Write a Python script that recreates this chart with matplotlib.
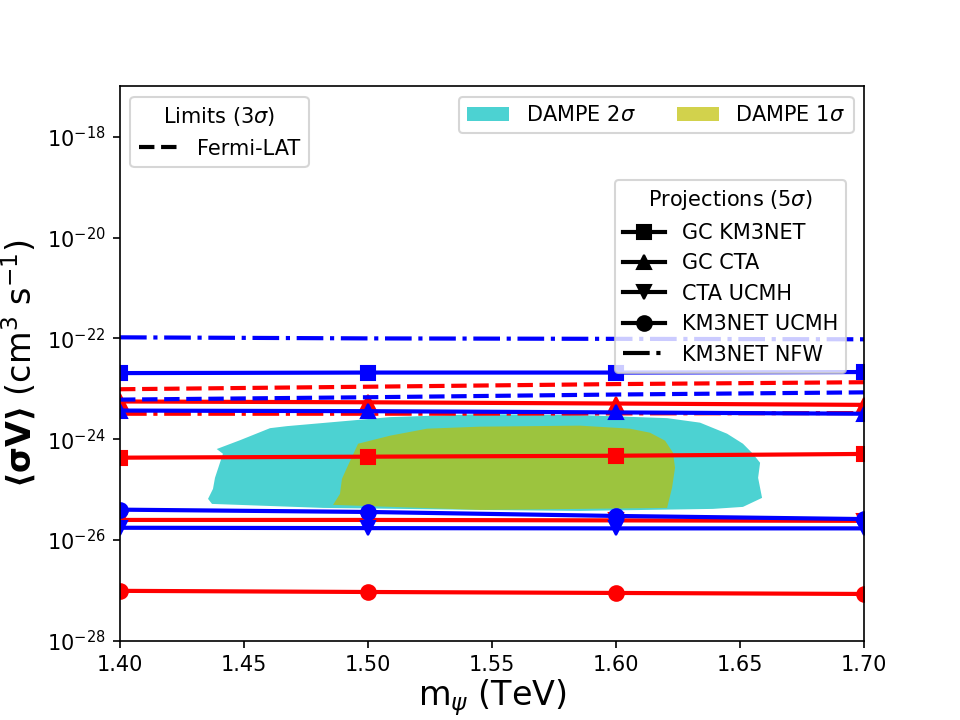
# -*- coding: utf-8 -*-
"""Annihilation cross-section limits and projections vs DM mass"""

import numpy as np
import matplotlib
matplotlib.use('Agg')
import matplotlib.pyplot as plt
from matplotlib.lines import Line2D
from matplotlib.patches import Patch
from matplotlib.ticker import FixedLocator, NullLocator, LogFormatterMathtext

mass = [1.40, 1.50, 1.60, 1.70]  # TeV

# Projections (5 sigma), red and blue sets
gc_km3net_red = [4.3e-25, 4.5e-25, 4.7e-25, 5.1e-25]
gc_km3net_blue = [2.05e-23, 2.1e-23, 2.1e-23, 2.15e-23]
gc_cta_red = [5.6e-24, 5.4e-24, 5.1e-24, 4.8e-24]
gc_cta_blue = [3.7e-24, 3.6e-24, 3.4e-24, 3.2e-24]
cta_ucmh_red = [2.5e-26, 2.5e-26, 2.45e-26, 2.4e-26]
cta_ucmh_blue = [1.75e-26, 1.72e-26, 1.7e-26, 1.7e-26]
km3net_ucmh_red = [9.8e-28, 9.3e-28, 8.9e-28, 8.5e-28]
km3net_ucmh_blue = [4.0e-26, 3.6e-26, 3.0e-26, 2.6e-26]
km3net_nfw_red = [3.2e-24, 3.2e-24, 3.25e-24, 3.3e-24]
km3net_nfw_blue = [1.05e-22, 1.0e-22, 0.98e-22, 0.96e-22]

# Limits (3 sigma)
fermi_red = [9.8e-24, 1.1e-23, 1.24e-23, 1.35e-23]
fermi_blue = [6.1e-24, 6.8e-24, 7.7e-24, 8.5e-24]

# DAMPE contours (mass in TeV, log10 <sigma v>)
dampe2_m = [1.4390, 1.4415, 1.4383, 1.4375, 1.4355, 1.4371, 1.4819, 1.5452,
            1.5855, 1.6391, 1.6512, 1.6589, 1.6573, 1.6581, 1.6552, 1.6512,
            1.6448, 1.6339, 1.6206, 1.5855, 1.5452, 1.5089, 1.4673, 1.4605,
            1.4484]
dampe2_logsv = [-24.195, -24.289, -24.766, -24.985, -25.184, -25.284, -25.363,
                -25.403, -25.423, -25.383, -25.343, -25.164, -24.766, -24.468,
                -24.289, -24.090, -23.891, -23.672, -23.582, -23.522, -23.502,
                -23.562, -23.741, -23.781, -24.020]
dampe1_m = [1.4960, 1.5089, 1.5238, 1.5452, 1.5855, 1.6056, 1.6137, 1.6198,
            1.6230, 1.6238, 1.6226, 1.6206, 1.5855, 1.5452, 1.4859, 1.4887,
            1.4895, 1.4915]
dampe1_logsv = [-24.090, -23.930, -23.791, -23.751, -23.731, -23.791, -23.871,
                -24.030, -24.269, -24.567, -24.965, -25.363, -25.383, -25.403,
                -25.303, -25.085, -24.786, -24.567]

xticks = [1.40, 1.45, 1.50, 1.55, 1.60, 1.65, 1.70]
yticks = [1e-28, 1e-26, 1e-24, 1e-22, 1e-20, 1e-18]

fig, ax = plt.subplots(figsize=(6.4, 4.8), dpi=150)

# DAMPE regions
ax.fill(dampe2_m, 10 ** np.array(dampe2_logsv), color='c', alpha=0.7, lw=0, zorder=1)
ax.fill(dampe1_m, 10 ** np.array(dampe1_logsv), color='y', alpha=0.7, lw=0, zorder=1)

kw = dict(linewidth=2, markersize=7)
# red set first, blue on top
ax.plot(mass, fermi_red, 'r--', **kw)
ax.plot(mass, km3net_nfw_red, 'r-.', **kw)
ax.plot(mass, gc_km3net_red, 'r-s', **kw)
ax.plot(mass, gc_cta_red, 'r-^', **kw)
ax.plot(mass, cta_ucmh_red, 'r-v', **kw)
ax.plot(mass, km3net_ucmh_red, 'r-o', **kw)

ax.plot(mass, fermi_blue, 'b--', **kw)
ax.plot(mass, km3net_nfw_blue, 'b-.', **kw)
ax.plot(mass, gc_km3net_blue, 'b-s', **kw)
ax.plot(mass, gc_cta_blue, 'b-^', **kw)
ax.plot(mass, km3net_ucmh_blue, 'b-o', **kw)
ax.plot(mass, cta_ucmh_blue, 'b-v', **kw)

ax.set_yscale('log')
ax.set_xlim(1.4, 1.7)
ax.set_ylim(1e-28, 1e-17)
ax.xaxis.set_major_locator(FixedLocator(xticks))
ax.set_xticklabels([f'{t:.2f}' for t in xticks])
ax.yaxis.set_major_locator(FixedLocator(yticks))
ax.yaxis.set_major_formatter(LogFormatterMathtext())
ax.yaxis.set_minor_locator(NullLocator())

ax.set_xlabel(r'm$_\psi$ (TeV)', fontsize=16, labelpad=1)
ax.set_ylabel(r'$\mathbf{\langle\sigma V\rangle}$ (cm$^3$ s$^{-1}$)', fontsize=16)

# legends
leg_lim = ax.legend([Line2D([], [], color='k', ls='--', lw=2)], ['Fermi-LAT'],
                    title=r'Limits (3$\sigma$)', loc='upper left')
ax.add_artist(leg_lim)

dampe_handles = [Patch(facecolor='c', alpha=0.7), Patch(facecolor='y', alpha=0.7)]
leg_dampe = ax.legend(dampe_handles, [r'DAMPE 2$\sigma$', r'DAMPE 1$\sigma$'],
                      loc='upper right', ncol=2)
ax.add_artist(leg_dampe)

proj_handles = [Line2D([], [], color='k', marker='s', **kw),
                Line2D([], [], color='k', marker='^', **kw),
                Line2D([], [], color='k', marker='v', **kw),
                Line2D([], [], color='k', marker='o', **kw),
                Line2D([], [], color='k', ls='-.', lw=2)]
proj_labels = ['GC KM3NET', 'GC CTA', 'CTA UCMH', 'KM3NET UCMH', 'KM3NET NFW']
ax.legend(proj_handles, proj_labels, title=r'Projections (5$\sigma$)',
          loc='upper right', bbox_to_anchor=(0.976, 0.831), borderaxespad=0)

fig.savefig('out.png', dpi=150)
plt.close(fig)
